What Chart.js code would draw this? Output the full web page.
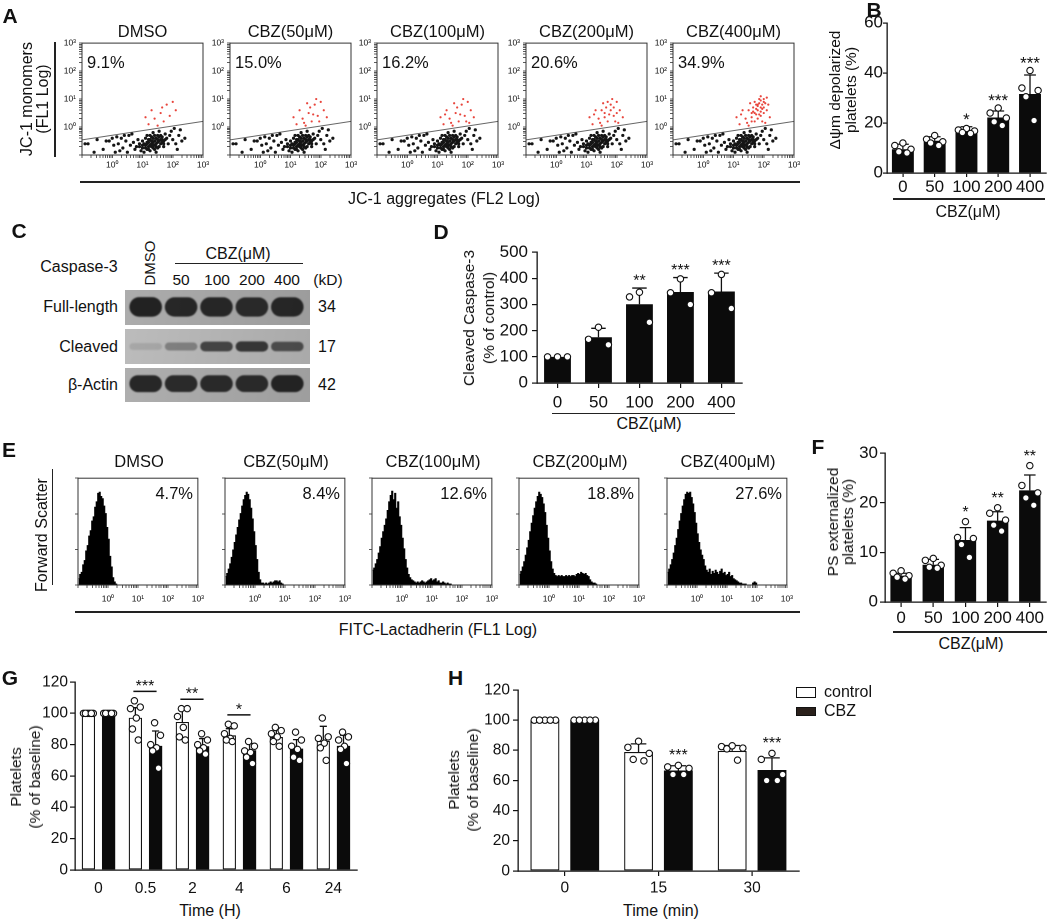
<!DOCTYPE html>
<html>
<head>
<meta charset="utf-8">
<script src="https://cdn.jsdelivr.net/npm/chart.js@4.4.1/dist/chart.umd.min.js"></script>
<style>
  body { margin: 0; background: #fff; }
  #fig { position: relative; width: 1052px; height: 922px; overflow: hidden;
         font-family: Arial, "Liberation Sans", Helvetica, sans-serif; color: #111; }
  canvas { position: absolute; }
  .t { position: absolute; white-space: nowrap; line-height: 1; text-align: center; }
  .ln { position: absolute; background: #222; }
</style>
</head>
<body>
<div id="fig"></div>
<script>
// ---------- data ----------
const doses = ["0", "50", "100", "200", "400"];
const groupTitles = ["DMSO", "CBZ(50μM)", "CBZ(100μM)", "CBZ(200μM)", "CBZ(400μM)"];
const decadeLabels = ["10⁰", "10¹", "10²", "10³"];

// A - JC-1 dot plots, coordinates in log10 units (FL2, FL1)
const jcPercent = ["9.1%", "15.0%", "16.2%", "20.6%", "34.9%"];
const jcBlack = [
  [0.8,-0.7],[0.9,-0.6],[1.0,-0.75],[1.0,-0.5],[1.1,-0.65],[1.1,-0.4],[1.15,-0.8],[1.2,-0.55],[1.2,-0.7],[1.25,-0.45],
  [1.3,-0.6],[1.3,-0.35],[1.35,-0.75],[1.4,-0.5],[1.4,-0.65],[1.45,-0.4],[1.5,-0.55],[1.5,-0.3],[1.55,-0.7],[1.6,-0.45],
  [1.6,-0.6],[1.65,-0.35],[1.7,-0.5],[1.75,-0.25],[1.8,-0.4],[1.85,-0.6],[1.9,-0.3],[0.95,-0.85],[1.05,-0.9],[1.25,-0.85],
  [0.7,-0.55],[0.75,-0.8],[1.35,-0.2],[1.55,-0.15],[1.7,-0.7],[2.0,-0.45],[1.15,-0.3],[0.85,-0.45],[1.45,-0.9],[1.95,-0.15],
  [1.05,-0.6],[1.15,-0.55],[1.25,-0.65],[1.35,-0.55],[1.45,-0.6],[1.55,-0.5],[1.65,-0.55],[1.35,-0.4],[1.2,-0.45],[1.5,-0.75],
  [1.1,-0.75],[1.4,-0.3],[1.6,-0.3],[1.75,-0.45],[0.9,-0.7],[1.3,-0.5],[1.45,-0.7],[1.0,-0.65],[1.65,-0.45],[1.25,-0.3],
  [1.15,-0.6],[1.35,-0.65],[1.5,-0.45],[1.4,-0.8],[1.7,-0.6],[1.2,-0.8],[1.55,-0.35],[1.3,-0.7],
  [-0.8,-0.6],[-0.5,-0.45],[-0.3,-0.8],[-0.1,-0.5],[0.0,-0.4],[0.1,-0.9],[0.2,-0.6],[0.3,-0.4],[0.35,-0.75],[0.45,-0.5],
  [0.5,-0.9],[0.55,-0.3],[0.6,-0.65],[0.65,-0.25],[-0.6,-0.9],[-0.2,-0.5],[0.15,-0.35],[0.4,-0.3],[2.1,-0.6],[2.2,-0.3],
  [2.3,-0.5],[2.25,-0.1],[2.4,-0.4],[2.05,-0.05],[2.15,-0.8],[-0.9,-0.6],[0.05,-0.65],[0.25,-0.85]
];
const jcRed = [
  [1.2,0.1],[1.4,0.3],[1.6,0.5],[1.3,0.6],[1.7,0.2],[1.8,0.8],[1.5,0.05],[1.9,0.4],[2.0,0.9],[1.1,0.35],[1.65,0.7],[2.1,0.6],
  [1.45,0.15],[1.75,0.45],[1.95,0.2],[1.55,0.85],[1.85,1.0],[2.2,0.35],
  [1.25,0.45],[2.05,0.15],
  [1.6,0.35],[1.8,0.6],[1.9,0.7],[1.7,0.9],[2.0,0.5],[1.5,0.6],
  [1.85,0.85],[1.9,0.95],[1.95,0.8],[2.0,1.0],[1.8,0.75],[1.75,0.65],[1.9,0.55],[2.05,0.85],[1.85,0.45],[1.7,0.5],
  [2.1,1.05],[1.95,0.65],[1.65,0.55],[2.0,0.7],[1.8,0.3],[1.6,0.2],[2.15,0.8],[1.9,1.1],[1.75,0.8]
];
const jcRedShown = [12, 18, 20, 26, 45];
const jcGate = [[-1, -0.46], [3, 0.2]];

// B - depolarized platelets (%)
const bMean = [9.5, 12.9, 16.7, 22.2, 31.6];
const bSd = [2.0, 1.6, 1.8, 2.6, 7.6];
const bDots = [[12, 11, 9.5, 8.5, 8], [15, 13.5, 12.5, 12, 11], [17.8, 17.2, 16.8, 16.2, 15.8], [26, 24, 22, 20.5, 19], [41, 34, 33, 30.5, 21]];
const bStars = ["", "", "*", "***", "***"];

// C - western blot band strength (0..1)
const blotLanes = ["DMSO", "50", "100", "200", "400"];
const blotNames = ["Full-length", "Cleaved", "β-Actin"];
const blotKd = ["34", "17", "42"];
const bandFull = [0.93, 0.9, 0.9, 0.88, 0.9];
const bandCleaved = [0.12, 0.35, 0.72, 0.8, 0.66];
const bandActin = [0.9, 0.88, 0.88, 0.88, 0.92];

// D - cleaved caspase-3 (% of control)
const dMean = [100, 175, 301, 348, 350];
const dSd = [0, 34, 62, 55, 70];
const dDots = [[100, 100, 100], [213, 167, 146], [347, 329, 232], [398, 345, 300], [415, 345, 285]];
const dStars = ["", "", "**", "***", "***"];

// E - lactadherin histograms, % of box height per 0.05-decade bin from 10^-1
const psPercent = ["4.7%", "8.4%", "12.6%", "18.8%", "27.6%"];
const psHistDmso = [6,10,12,19,23,32,37,46,51,60,64,73,78,86,87,83,81,74,67,54,43,27,17,7,3,1,0];
const psHist50 = [8,11,15,20,26,33,40,47,54,61,67,74,80,84,87,85,80,72,62,50,37,24,12,5,2,2,1,2,1,2,3,2,3,4,4,3,4,2,1,0];
const psHist100 = [14,16,20,24,30,36,44,50,56,62,70,78,84,88,80,86,72,78,64,56,44,34,24,16,10,7,5,4,3,2,3,2,3,4,3,2,3,4,5,6,4,5,6,3,4,2,2,3,2,1,2,1,1,0];
const psHist200 = [10,13,17,22,28,35,42,50,58,65,72,78,83,87,85,82,76,68,56,44,32,22,15,11,9,8,9,8,9,8,8,9,8,9,8,9,9,8,10,11,10,12,11,10,11,9,8,5,3,2,2,1,0];
const psHist400 = [12,15,19,24,30,37,44,52,60,67,74,80,85,87,86,87,82,76,68,58,48,40,33,28,24,18,14,12,15,10,13,11,14,12,10,13,15,11,12,9,10,12,8,9,6,5,4,3,2,2,1,1,1,0,0,0,0,2,3,2,0];

// F - PS externalized platelets (%)
const fMean = [5.3, 7.5, 12.5, 16.4, 22.5];
const fSd = [0.5, 1.1, 2.5, 1.8, 3.1];
const fDots = [[6.3, 5.8, 5.3, 5.0, 4.6], [8.8, 8.4, 7.4, 7.0, 6.8], [16.2, 13, 12.8, 11.6, 9], [19, 17.9, 16.5, 15.5, 14.3], [27.5, 23.5, 22, 21, 19.5]];
const fStars = ["", "", "*", "**", "**"];

// G - platelets in vivo, hours
const timeHours = ["0", "0.5", "2", "4", "6", "24"];
const gCtrlMean = [100, 97.2, 94.5, 86, 84.9, 82.4];
const gCtrlSd = [0, 6.4, 9.1, 4.2, 4.7, 9.3];
const gCtrlDots = [[100,100,100,100,100,100], [108,104,103,97,90,83], [103,103,98,91,85,83], [93,92,87,84,83,82], [91,89,87,85,82,79], [97,85,84,81,78,70]];
const gCbzMean = [100, 79.2, 79, 76.4, 77.5, 79.2];
const gCbzSd = [0, 9.5, 4.9, 4.3, 5.7, 6.8];
const gCbzDots = [[100,100,100,100,100,100], [94,86,80,78,76,65], [87,83,80,78,76,74], [82,79,76,75,72,68], [88,83,79,77,72,70], [88,85,83,79,77,68]];
const gSigAt = [1, 2, 3];
const gSigY = [114, 109, 99];
const gSigText = ["***", "**", "*"];

// H - platelets ex vivo, minutes
const timeMinutes = ["0", "15", "30"];
const hCtrlMean = [100, 78.9, 79.6];
const hCtrlSd = [0, 5.4, 3.6];
const hCtrlDots = [[100,100,100,100,100], [86,82,78,74,73], [83,82.5,81.5,81,73.5]];
const hCbzMean = [100, 66.6, 67];
const hCbzSd = [0, 3.2, 8];
const hCbzDots = [[100,100,100,100,100], [70,69,68,64,64], [78,74,64,60,60]];
const hStars = ["", "***", "***"];

// ---------- helpers ----------
const FONT = 'Arial, "Liberation Sans", Helvetica, sans-serif';
Chart.defaults.font.family = FONT;
Chart.defaults.color = '#111';
Chart.defaults.animation = false;
Chart.defaults.responsive = false;
Chart.defaults.devicePixelRatio = 2;
Chart.defaults.plugins.legend.display = false;
Chart.defaults.plugins.tooltip.enabled = false;

const fig = document.getElementById('fig');

function txt(s, x, y, size, o = {}) {
  const d = document.createElement('div');
  d.className = 't';
  d.innerHTML = s;
  d.style.left = x + 'px';
  d.style.top = y + 'px';
  d.style.fontSize = size + 'px';
  if (o.bold) d.style.fontWeight = 'bold';
  if (o.lh) d.style.lineHeight = o.lh + 'px';
  const ax = o.align === 'left' ? '0' : o.align === 'right' ? '-100%' : '-50%';
  d.style.transform = 'translate(' + ax + ',-50%)' + (o.rot ? ' rotate(' + o.rot + 'deg)' : '');
  fig.appendChild(d);
}

function hline(x1, x2, y, w = 1.2) {
  const d = document.createElement('div');
  d.className = 'ln';
  Object.assign(d.style, { left: x1 + 'px', top: (y - w / 2) + 'px', width: (x2 - x1) + 'px', height: w + 'px' });
  fig.appendChild(d);
}
function vline(x, y1, y2, w = 1.2) {
  const d = document.createElement('div');
  d.className = 'ln';
  Object.assign(d.style, { left: (x - w / 2) + 'px', top: y1 + 'px', width: w + 'px', height: (y2 - y1) + 'px' });
  fig.appendChild(d);
}

// canvas sized so that the chart area lands on `area` = [x0, y0, x1, y1]
function makeCanvas(area, m) {
  const c = document.createElement('canvas');
  const w = area[2] - area[0] + m.l + m.r, h = area[3] - area[1] + m.t + m.b;
  c.width = w; c.height = h;
  c.style.left = (area[0] - m.l) + 'px';
  c.style.top = (area[1] - m.t) + 'px';
  c.style.width = w + 'px';
  c.style.height = h + 'px';
  fig.appendChild(c);
  return c;
}

const framePlugin = {
  id: 'frame',
  afterDraw(chart) {
    const { ctx, chartArea: a } = chart;
    ctx.save();
    ctx.strokeStyle = '#333';
    ctx.lineWidth = 1;
    ctx.strokeRect(a.left, a.top, a.width, a.height);
    ctx.restore();
  }
};

function logTicks(scale) {
  const t = [];
  for (let d = -1; d < 3; d++) for (let k = 1; k < 10; k++) t.push({ value: d + Math.log10(k) });
  t.push({ value: 3 });
  scale.ticks = t;
}
function decadeLabel(v) { return Number.isInteger(v) && v >= 0 ? decadeLabels[v] : ''; }

function flowAxis(pad, fit, labelled) {
  return {
    type: 'linear', min: -1, max: 3,
    afterBuildTicks: logTicks,
    ticks: { autoSkip: false, maxRotation: 0, font: { size: 8.5 }, padding: pad, callback: labelled ? decadeLabel : () => '' },
    grid: { drawOnChartArea: false, tickLength: 3, color: '#333', lineWidth: 0.8 },
    border: { color: '#333', width: 1 },
    afterFit: fit
  };
}

function jcPlot(i, bx) {
  const m = { l: 30, t: 8, r: 10, b: 22 };
  const c = makeCanvas([bx, 43, bx + 121, 155], m);
  new Chart(c, {
    type: 'scatter',
    data: {
      datasets: [
        { data: jcBlack.map(p => ({ x: p[0], y: p[1] })), pointRadius: 1.6, backgroundColor: '#151515', borderWidth: 0 },
        { data: jcRed.slice(0, jcRedShown[i]).map(p => ({ x: p[0], y: p[1] })), pointRadius: 1.1, backgroundColor: '#e8453c', borderWidth: 0 },
        { type: 'line', data: jcGate.map(p => ({ x: p[0], y: p[1] })), borderColor: '#666', borderWidth: 1, pointRadius: 0 }
      ]
    },
    options: {
      layout: { padding: { top: m.t, right: m.r } },
      scales: {
        x: flowAxis(2, s => { s.height = m.b; }, true),
        y: flowAxis(3, s => { s.width = m.l; }, true)
      }
    },
    plugins: [framePlugin]
  });
}

function psPlot(hist, bx) {
  const m = { l: 10, t: 6, r: 10, b: 24 };
  const c = makeCanvas([bx, 474, bx + 122, 585], m);
  const binStart = -1, binWidth = 0.05;
  new Chart(c, {
    type: 'line',
    data: {
      datasets: [{
        data: hist.map((v, k) => ({ x: binStart + (k + 0.5) * binWidth, y: v })),
        stepped: 'middle', fill: 'origin', backgroundColor: '#000', borderColor: '#000',
        borderWidth: 0.6, pointRadius: 0
      }]
    },
    options: {
      layout: { padding: { top: m.t, right: m.r } },
      scales: {
        x: flowAxis(6, s => { s.height = m.b; }, true),
        y: {
          min: 0, max: 100,
          afterBuildTicks: s => { s.ticks = [0, 33.3, 66.7, 100].map(v => ({ value: v })); },
          ticks: { callback: () => '' },
          grid: { drawOnChartArea: false, tickLength: 3, color: '#333', lineWidth: 0.8 },
          border: { color: '#333', width: 1 },
          afterFit: s => { s.width = m.l; }
        }
      }
    },
    plugins: [framePlugin]
  });
}

// error bars (upward SD) drawn right after each bar dataset
const errorBars = {
  id: 'errorBars',
  afterDatasetDraw(chart, args) {
    const ds = chart.data.datasets[args.index];
    if (!ds.sd) return;
    const ctx = chart.ctx, y = chart.scales.y;
    ctx.save();
    ctx.strokeStyle = '#111';
    ctx.lineWidth = 1.3;
    args.meta.data.forEach((bar, i) => {
      const e = ds.sd[i];
      if (!e) return;
      const yt = y.getPixelForValue(ds.data[i].y + e), half = bar.width * 0.27;
      ctx.beginPath();
      ctx.moveTo(bar.x, bar.y); ctx.lineTo(bar.x, yt);
      ctx.moveTo(bar.x - half, yt); ctx.lineTo(bar.x + half, yt);
      ctx.stroke();
    });
    ctx.restore();
  }
};

// significance marks above groups
const starMarks = {
  id: 'starMarks',
  afterDraw(chart) {
    const ctx = chart.ctx, y = chart.scales.y;
    chart.data.datasets.forEach((ds, d) => {
      if (!ds.stars && !ds.sig) return;
      const bars = chart.getDatasetMeta(d).data;
      ctx.save();
      ctx.fillStyle = ctx.strokeStyle = '#111';
      ctx.font = ds.starSize + 'px ' + FONT;
      ctx.textAlign = 'center';
      ctx.textBaseline = 'middle';
      (ds.stars || []).forEach((s, i) => {
        if (!s) return;
        const top = Math.max(ds.data[i].y + ds.sd[i], ...ds.dots[i]);
        ctx.fillText(s, bars[i].x, y.getPixelForValue(top) - ds.starGap);
      });
      if (ds.sig) {
        const ref = chart.getDatasetMeta(0).data;
        ds.sig.at.forEach((i, k) => {
          const x1 = ref[i].x - 2, x2 = bars[i].x + 1, yy = y.getPixelForValue(ds.sig.y[k]);
          ctx.lineWidth = 1.5;
          ctx.beginPath(); ctx.moveTo(x1, yy); ctx.lineTo(x2, yy); ctx.stroke();
          ctx.fillText(ds.sig.text[k], (x1 + x2) / 2, yy - 5);
        });
      }
      ctx.restore();
    });
  }
};

const spreadOrder = { 3: [1, 0, 2], 5: [2, 0, 4, 1, 3], 6: [2, 5, 0, 3, 1, 4] };
function spread(k, n) {
  const p = (spreadOrder[n] || [...Array(n).keys()])[k];
  return n === 1 ? 0 : (p / (n - 1) - 0.5) * 0.74;
}

// bars + individual points on one linear axis (category i sits at x = i)
function dotBars(area, m, o) {
  const c = makeCanvas(area, m);
  const n = o.labels.length, ns = o.groups.length;
  const slot = ns === 1 ? 1 : o.cat / ns;   // distance between bar centres in a group
  const bw = slot * o.bar;                   // bar width in category units
  const datasets = [];
  o.groups.forEach((g, s) => {
    const shift = (s - (ns - 1) / 2) * slot;
    datasets.push({
      type: 'bar', data: g.mean.map((v, i) => ({ x: i + shift, y: v })),
      sd: g.sd, dots: g.dots, stars: g.stars, sig: g.sig, starGap: o.starGap, starSize: o.starSize,
      backgroundColor: g.fill, borderColor: '#111', borderWidth: g.edge, borderSkipped: false,
      grouped: false, categoryPercentage: 1, barPercentage: o.bar, order: 2
    });
    const pts = [];
    g.dots.forEach((vals, i) => vals.forEach((v, k) => pts.push({ x: i + shift + spread(k, vals.length) * bw, y: v })));
    datasets.push({
      type: 'scatter', data: pts, pointRadius: 3.2,
      pointBackgroundColor: '#fff', pointBorderColor: '#111', pointBorderWidth: 1.1, order: 1
    });
  });
  new Chart(c, {
    type: 'bar',
    data: { datasets },
    options: {
      layout: { padding: { top: m.t, right: m.r } },
      scales: {
        x: {
          type: 'linear', offset: false, min: -0.5, max: n - 0.5,
          afterBuildTicks: s => { s.ticks = o.labels.map((_, i) => ({ value: i })); },
          grid: { offset: false, drawOnChartArea: false, drawTicks: o.xTl > 0, tickLength: o.xTl, color: '#111', lineWidth: 1.2 },
          border: { color: '#111', width: 1.3 },
          ticks: { font: { size: o.font }, padding: o.xPad, maxRotation: 0, autoSkip: false, callback: v => o.labels[v] },
          afterFit: s => { s.height = m.b; }
        },
        y: {
          min: 0, max: o.yMax,
          ticks: { stepSize: o.yStep, font: { size: o.font }, padding: o.yPad },
          grid: { drawOnChartArea: false, tickLength: o.yTl, color: '#111', lineWidth: 1.2 },
          border: { color: '#111', width: 1.3 },
          afterFit: s => { s.width = m.l; }
        }
      }
    },
    plugins: [errorBars, starMarks]
  });
}

const blotBg = {
  id: 'blotBg',
  beforeDraw(chart, args, o) {
    const ctx = chart.ctx;
    const g = ctx.createLinearGradient(0, 0, chart.width, chart.height);
    g.addColorStop(0, o.light);
    g.addColorStop(1, o.dark);
    ctx.save();
    ctx.fillStyle = g;
    ctx.fillRect(0, 0, chart.width, chart.height);
    ctx.restore();
  },
  beforeDatasetsDraw(chart) { chart.ctx.save(); chart.ctx.filter = 'blur(1.6px)'; },
  afterDatasetsDraw(chart) { chart.ctx.restore(); }
};

function blotRow(top, bottom, band, mid, half, light, dark) {
  const c = makeCanvas([125, top, 310, bottom], { l: 0, t: 0, r: 0, b: 0 });
  new Chart(c, {
    type: 'bar',
    data: {
      labels: blotLanes,
      datasets: [{
        data: band.map(v => [mid - half * (0.55 + 0.45 * v), mid + half * (0.55 + 0.45 * v)]),
        backgroundColor: band.map(v => 'rgba(24,24,24,' + v + ')'),
        borderRadius: 10, borderSkipped: false, categoryPercentage: 1, barPercentage: 0.92
      }]
    },
    options: {
      layout: { padding: { left: 3, right: 5 } },
      scales: { x: { display: false }, y: { display: false, min: 0, max: 1 } },
      plugins: { blotBg: { light, dark } }
    },
    plugins: [blotBg]
  });
}

// ---------- A ----------
const jcBoxLeft = [82, 230, 377, 526, 673];
jcBoxLeft.forEach((bx, i) => {
  jcPlot(i, bx);
  txt(groupTitles[i], bx + 60.5, 31, 16.5);
  txt(jcPercent[i], bx + 5, 62, 16.5, { align: 'left' });
});
txt('A', 10, 15, 21, { bold: true });
txt('JC-1 monomers<br>(FL1 Log)', 35, 98.5, 16, { rot: -90, lh: 16 });
vline(55, 42, 157);
hline(80, 800, 182);
txt('JC-1 aggregates (FL2 Log)', 444, 198.5, 16);

// ---------- B ----------
dotBars([887, 23, 1047, 173], { l: 40, t: 23, r: 4, b: 26 }, {
  labels: doses, cat: 1, bar: 0.69, yMax: 60, yStep: 20, font: 17,
  xTl: 4, xPad: 0, yTl: 4, yPad: 0, starGap: 6.5, starSize: 17,
  groups: [{ mean: bMean, sd: bSd, dots: bDots, stars: bStars, fill: '#0b0b0b', edge: 0 }]
});
txt('B', 874, 8.5, 21, { bold: true });
txt('Δψm depolarized<br>platelets (%)', 843, 90, 15.5, { rot: -90, lh: 16 });
hline(893, 1045, 199);
txt('CBZ(μM)', 968, 212, 16);

// ---------- C ----------
txt('C', 19, 229.5, 21, { bold: true });
txt('Caspase-3', 79, 267, 16);
const laneX = [146, 181, 217, 252, 287];
txt(blotLanes[0], laneX[0] + 3, 263, 15, { rot: -90 });
blotLanes.slice(1).forEach((s, k) => txt(s, laneX[k + 1], 280, 15.5));
txt('CBZ(μM)', 238, 254, 16);
hline(175, 303, 263.5);
txt('(kD)', 328, 280, 15.5);
blotRow(290, 325, bandFull, 0.515, 0.29, '#adadad', '#9c9c9c');
blotRow(329, 364, bandCleaved, 0.5, 0.16, '#bcbcbc', '#aaaaaa');
blotRow(368, 402, bandActin, 0.54, 0.26, '#afafaf', '#9e9e9e');
[307, 346.5, 385].forEach((y, k) => {
  txt(blotNames[k], 118, y, 16, { align: 'right' });
  txt(blotKd[k], 327, y, 16);
});

// ---------- D ----------
dotBars([537, 252, 743, 383], { l: 42, t: 14, r: 4, b: 30 }, {
  labels: doses, cat: 1, bar: 0.655, yMax: 500, yStep: 100, font: 17,
  xTl: 5, xPad: 4.8, yTl: 5, yPad: 4, starGap: 7, starSize: 16,
  groups: [{ mean: dMean, sd: dSd, dots: dDots, stars: dStars, fill: '#0b0b0b', edge: 0 }]
});
txt('D', 441, 231, 21, { bold: true });
txt('Cleaved Caspase-3<br>(% of control)', 479, 317.5, 15.5, { rot: -90, lh: 20 });
hline(552, 735, 413.5);
txt('CBZ(μM)', 649, 424, 16);

// ---------- E ----------
const psBoxLeft = [78, 225, 372, 519, 667];
const psHists = [psHistDmso, psHist50, psHist100, psHist200, psHist400];
psBoxLeft.forEach((bx, i) => {
  psPlot(psHists[i], bx);
  txt(groupTitles[i], bx + 61, 461, 16.5);
  txt(psPercent[i], bx + 115, 493, 16.5, { align: 'right' });
});
txt('E', 9, 448.5, 21, { bold: true });
txt('Forward Scatter', 42, 535, 16, { rot: -90 });
vline(52.4, 469, 585);
hline(75, 800, 612);
txt('FITC-Lactadherin (FL1 Log)', 438, 630, 16);

// ---------- F ----------
dotBars([885, 451, 1048, 602], { l: 38, t: 10, r: 3, b: 26 }, {
  labels: doses, cat: 1, bar: 0.665, yMax: 30, yStep: 10, font: 17,
  xTl: 5, xPad: 1, yTl: 5, yPad: 2, starGap: 9, starSize: 16,
  groups: [{ mean: fMean, sd: fSd, dots: fDots, stars: fStars, fill: '#0b0b0b', edge: 0 }]
});
txt('F', 818, 446, 21, { bold: true });
txt('PS externalized<br>platelets (%)', 840, 521.5, 15.5, { rot: -90, lh: 15 });
hline(893, 1047, 632);
txt('CBZ(μM)', 971, 644, 16);

// ---------- G ----------
dotBars([75, 682, 358, 870], { l: 42, t: 14, r: 4, b: 30 }, {
  labels: timeHours, cat: 0.86, bar: 0.655, yMax: 120, yStep: 20, font: 15.5,
  xTl: 0, xPad: 9.4, yTl: 5, yPad: 2, starGap: 7, starSize: 16,
  groups: [
    { mean: gCtrlMean, sd: gCtrlSd, dots: gCtrlDots, fill: '#fff', edge: 1.2 },
    { mean: gCbzMean, sd: gCbzSd, dots: gCbzDots, fill: '#0b0b0b', edge: 0, sig: { at: gSigAt, y: gSigY, text: gSigText } }
  ]
});
txt('G', 10, 676.5, 21, { bold: true });
txt('Platelets<br>(% of baseline)', 25, 777, 15.5, { rot: -90, lh: 19 });
txt('Time (H)', 210, 911, 16);

// ---------- H ----------
dotBars([517.5, 690, 800, 871], { l: 42, t: 14, r: 4, b: 30 }, {
  labels: timeMinutes, cat: 0.85, bar: 0.725, yMax: 120, yStep: 20, font: 15.5,
  xTl: 5, xPad: 2.7, yTl: 5, yPad: 3, starGap: 10, starSize: 16,
  groups: [
    { mean: hCtrlMean, sd: hCtrlSd, dots: hCtrlDots, fill: '#fff', edge: 1.2 },
    { mean: hCbzMean, sd: hCbzSd, dots: hCbzDots, stars: hStars, fill: '#0b0b0b', edge: 0 }
  ]
});
txt('H', 455.5, 676.5, 21, { bold: true });
txt('Platelets<br>(% of baseline)', 463, 780, 15.5, { rot: -90, lh: 19 });
txt('Time (min)', 661, 911, 16);
// legend
const swatch = (y, h, bg) => {
  const d = document.createElement('div');
  Object.assign(d.style, { position: 'absolute', left: '796px', top: y + 'px', width: '20px', height: h + 'px',
    background: bg, border: '1px solid #111', boxSizing: 'border-box' });
  fig.appendChild(d);
};
swatch(686.5, 11, '#fff');
swatch(706.5, 9.5, '#2a201b');
txt('control', 824, 691.5, 16, { align: 'left' });
txt('CBZ', 824, 711, 16, { align: 'left' });
</script>
</body>
</html>
